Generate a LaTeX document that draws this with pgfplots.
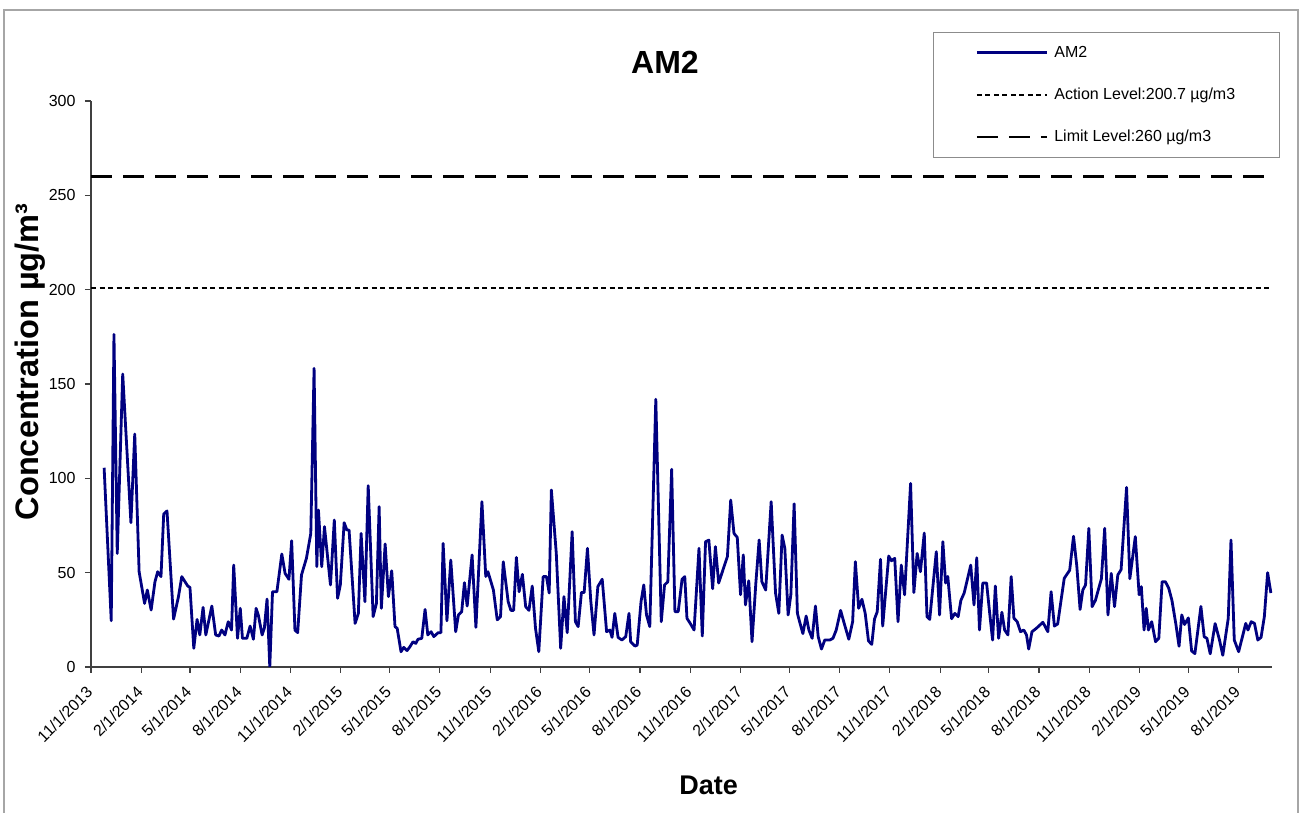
\documentclass[border=0pt]{standalone}
\usepackage{pgfplots}
\usepackage{pgfplotstable}
\pgfplotsset{compat=1.18}
\usepackage{fontspec}
\setmainfont{Liberation Sans}
\definecolor{navy}{RGB}{0,0,128}
\pgfplotstableread{
day val
24 105.6
37 24.5
42 176.3
48 60.2
58 155.3
73 76.5
80 123.5
88 50.5
98 33.7
103 40.8
110 30.2
117 45.2
122 50.5
128 47.9
133 81.1
139 82.7
151 25.4
160 37.3
166 47.9
177 42.9
181 42.2
188 9.9
194 25.2
199 17.0
205 31.6
210 17.0
221 32.3
228 17.0
234 16.4
239 19.6
245 17.0
251 24.0
257 19.6
261 54.0
268 15.2
273 31.1
277 15.2
285 15.2
291 21.7
297 14.7
302 31.1
306 27.6
313 17.0
317 20.5
322 36.0
327 0
332 39.9
340 39.9
349 59.9
355 49.6
362 46.5
367 66.9
373 19.6
378 18.2
385 48.8
394 57.6
402 70.8
408 158.3
413 53.2
416 83.2
422 53.2
427 74.4
438 43.5
445 77.9
451 36.4
456 43.5
463 76.5
468 72.6
472 72.6
483 23.1
489 28.4
494 70.8
501 34.6
507 96.1
516 26.7
522 33.7
527 85.0
531 31.1
538 65.2
544 37.3
550 51.0
556 21.4
560 20.5
567 8.1
572 10.4
578 8.7
583 10.6
589 13.4
594 12.5
598 14.7
605 15.2
611 30.5
616 17.0
622 18.7
627 16.1
635 18.2
640 18.2
644 65.5
651 24.5
658 56.7
667 18.7
672 27.6
678 29.3
683 44.7
688 32.3
697 59.4
704 21.0
715 87.6
722 48.0
726 50.5
736 40.8
743 25.0
749 26.7
754 55.8
763 34.6
768 30.0
773 30.0
778 58.1
783 39.9
789 49.1
795 32.0
801 30.0
807 42.9
813 20.5
819 8.1
827 47.9
833 47.9
838 39.2
842 93.8
851 60.2
859 9.9
865 37.3
871 18.2
880 71.7
886 24.0
891 21.4
897 39.5
902 39.5
908 62.9
914 35.3
920 17.0
927 42.6
935 46.5
943 18.7
949 19.6
953 15.7
958 28.4
964 15.7
971 14.3
978 16.1
984 28.4
987 13.4
995 11.1
999 11.6
1006 34.6
1011 43.5
1016 27.6
1022 21.4
1033 141.9
1043 24.0
1049 43.5
1055 45.2
1062 104.8
1068 29.3
1074 29.3
1081 46.5
1086 47.9
1090 25.8
1096 23.1
1103 19.6
1112 62.9
1118 16.4
1124 66.4
1130 67.3
1137 41.5
1142 63.8
1148 44.5
1156 51.6
1164 58.6
1170 88.5
1176 70.8
1182 68.7
1188 38.3
1193 59.4
1197 32.9
1203 45.7
1209 13.4
1216 44.5
1222 67.3
1227 45.2
1234 40.8
1244 87.6
1252 39.2
1258 28.4
1264 69.9
1269 62.9
1275 27.6
1280 38.3
1286 86.5
1292 28.4
1296 24.0
1302 17.7
1308 27.0
1313 19.6
1319 15.2
1325 32.3
1330 16.1
1336 9.5
1342 14.3
1351 14.3
1357 15.2
1363 19.6
1371 30.0
1377 23.7
1386 14.7
1393 24.0
1398 55.8
1404 31.1
1410 35.9
1416 28.4
1422 13.8
1428 12.0
1433 25.4
1438 29.3
1444 57.1
1448 21.7
1459 58.8
1464 56.3
1470 57.6
1476 24.0
1482 54.0
1488 38.3
1499 97.3
1505 39.5
1511 60.2
1517 50.5
1524 71.0
1529 26.7
1534 25.2
1546 61.1
1552 27.6
1558 66.4
1563 44.5
1567 48.0
1574 25.6
1580 28.4
1586 26.7
1591 35.3
1597 39.2
1609 54.0
1615 32.9
1620 57.9
1625 19.6
1631 44.5
1638 44.5
1644 27.6
1649 14.3
1654 42.9
1660 15.2
1666 29.0
1671 19.6
1677 17.0
1683 47.9
1688 25.8
1694 24.0
1700 18.7
1706 19.6
1711 17.0
1715 9.5
1721 18.7
1729 20.5
1741 23.7
1750 18.7
1756 39.9
1762 21.7
1768 22.8
1780 47.0
1790 51.3
1797 69.3
1803 53.5
1809 30.5
1814 40.8
1819 43.5
1825 73.5
1831 32.0
1837 35.3
1848 46.8
1854 73.5
1860 27.6
1866 49.6
1872 32.0
1878 48.8
1884 51.6
1894 95.2
1900 46.8
1910 69.1
1917 38.3
1921 42.6
1926 19.6
1930 31.1
1934 19.6
1940 24.0
1947 13.4
1953 15.2
1959 45.2
1965 45.2
1971 41.9
1977 35.3
1984 23.1
1990 11.0
1995 27.6
2000 22.5
2007 26.0
2013 8.5
2019 7.1
2030 32.1
2036 16.0
2041 15.2
2047 7.0
2056 23.0
2064 14.3
2070 6.2
2080 25.8
2085 67.3
2091 14.3
2099 8.1
2106 16.1
2112 23.1
2116 19.6
2122 24.0
2128 23.1
2134 14.3
2140 15.7
2146 26.7
2152 50.0
2158 39.2
}\amtwo
\begin{document}
\begin{tikzpicture}[x=1pt,y=1pt]
\useasboundingbox (0,0) rectangle (1301,813);
\draw[black!35, line width=2pt] (4,-10) -- (4,803) -- (1298,803) -- (1298,-10);
\begin{axis}[
  at={(91pt,146pt)}, anchor=south west,
  scale only axis, width=1181pt, height=566pt,
  xmin=0, xmax=2160, ymin=0, ymax=300,
  enlargelimits=false,
  axis x line*=bottom, axis y line*=left,
  axis line style={black!75, line width=1.5pt},
  tick align=outside, major tick length=6pt,
  tick style={black!75, line width=1.2pt},
  ytick={0,50,100,150,200,250,300},
  xtick={0,92,181,273,365,457,546,638,730,822,912,1004,1096,1188,1277,1369,1461,1553,1642,1734,1826,1918,2007,2099},
  xticklabels={11/1/2013,2/1/2014,5/1/2014,8/1/2014,11/1/2014,2/1/2015,5/1/2015,8/1/2015,11/1/2015,2/1/2016,5/1/2016,8/1/2016,11/1/2016,2/1/2017,5/1/2017,8/1/2017,11/1/2017,2/1/2018,5/1/2018,8/1/2018,11/1/2018,2/1/2019,5/1/2019,8/1/2019},
  /pgf/number format/assume math mode=true,
  yticklabel style={font=\fontsize{16}{19}\selectfont, xshift=-6pt},
  xticklabel style={font=\fontsize{16}{19}\selectfont, yshift=-14pt, xshift=1pt, rotate=45, anchor=east},
  title={AM2},
  title style={font=\bfseries\fontsize{32}{38}\selectfont, at={(axis description cs:0.486,1.057)}, anchor=center},
  ylabel={Concentration µg/m³},
  ylabel style={font=\bfseries\fontsize{32.5}{38}\selectfont, at={(axis description cs:-0.0517,0.539)}, anchor=center},
  xlabel={Date},
  xlabel style={font=\bfseries\fontsize{27}{32}\selectfont, at={(axis description cs:0.523,-0.2085)}, anchor=center},
  legend image code/.code={\draw[#1] (0pt,0pt) -- (70pt,0pt);},
  legend cell align=left,
  legend style={at={(axis description cs:0.713,1.122)}, anchor=north west,
    draw=black!45, line width=1pt, font=\fontsize{16}{19}\selectfont,
    inner xsep=42pt, inner ysep=12pt, row sep=25pt,
    /tikz/every odd column/.append style={column sep=4pt}},
]
\addplot[navy, line width=2.8pt, line join=round] table[x=day,y=val] {\amtwo};
\addlegendentry{AM2}
\addplot[black, line width=2pt, dash pattern=on 5pt off 3.5pt] coordinates {(0,200.7) (2160,200.7)};
\addlegendentry{Action Level:200.7 µg/m3}
\addplot[black, line width=2.5pt, dash pattern=on 21pt off 11pt] coordinates {(0,260) (2160,260)};
\addlegendentry{Limit Level:260 µg/m3}
\end{axis}
\end{tikzpicture}
\end{document}
